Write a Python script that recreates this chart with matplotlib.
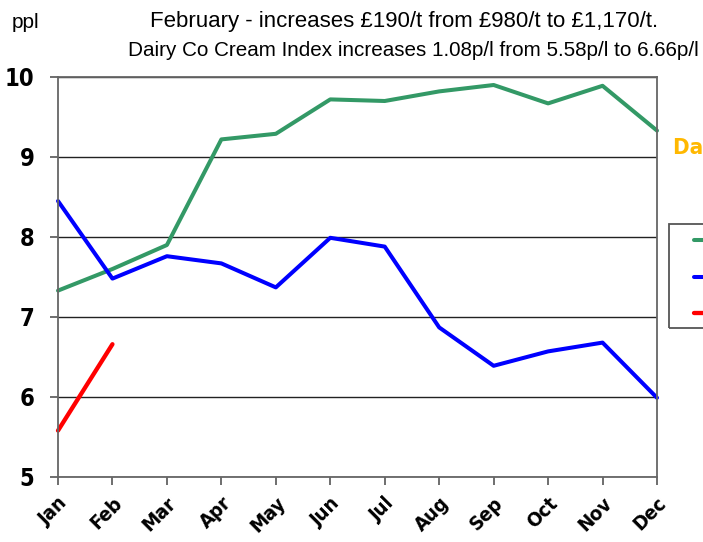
import numpy as np
import matplotlib
matplotlib.use('Agg')
import matplotlib.pyplot as plt
from matplotlib.patches import Rectangle

# data (ppl)
months = ['Jan', 'Feb', 'Mar', 'Apr', 'May', 'Jun', 'Jul', 'Aug', 'Sep', 'Oct', 'Nov', 'Dec']
green_vals = [7.33, 7.60, 7.90, 9.22, 9.29, 9.72, 9.70, 9.82, 9.90, 9.67, 9.89, 9.33]
blue_vals = [8.45, 7.48, 7.76, 7.67, 7.37, 7.99, 7.88, 6.87, 6.39, 6.57, 6.68, 5.99]
red_vals = [5.58, 6.66]
series_labels = ['2007', '2008', '2009']

title1 = 'February - increases \u00a3190/t from \u00a3980/t to \u00a31,170/t.'
title2 = 'Dairy Co Cream Index increases 1.08p/l from 5.58p/l to 6.66p/l'

arial = ['Liberation Sans', 'DejaVu Sans']

fig = plt.figure(figsize=(7.03, 5.42), dpi=100)
ax = fig.add_axes([58/703, 1-477/542, 599/703, 400/542])

x = np.arange(len(months))
l1, = ax.plot(x, green_vals, color='#339966', lw=2.9, solid_capstyle='round', clip_on=False)
l2, = ax.plot(x, blue_vals, color='#0000ff', lw=2.9, solid_capstyle='round', clip_on=False)
l3, = ax.plot(x[:len(red_vals)], red_vals, color='#ff0000', lw=3.1, solid_capstyle='round', clip_on=False)

ax.set_xlim(0, len(months) - 1)
ax.set_ylim(5, 10)
ax.set_yticks([5, 6, 7, 8, 9, 10])
ax.set_xticks(x)
ax.set_xticklabels(months, rotation=45, ha='right', va='top', rotation_mode='anchor',
                   fontsize=14.5, fontweight='bold', fontstretch='condensed')
for t in ax.get_yticklabels():
    t.set_fontsize(17)
    t.set_fontweight('bold')
    t.set_fontstretch('condensed')
ax.tick_params(axis='both', direction='out', length=6, width=1.2, color='#555555')
ax.tick_params(axis='y', pad=11)
ax.tick_params(axis='x', pad=6)
ax.grid(axis='y', color='#222222', lw=1.0)
ax.set_axisbelow(True)
for s in ax.spines.values():
    s.set_color('#666666')
    s.set_linewidth(1.3)

fig.text(12/703, 1-22/542, 'ppl', fontsize=15, family=arial, va='center', ha='left')
fig.text(404/703, 1-22/542, title1, fontsize=16, family=arial, va='center', ha='center')
fig.text(128/703, 1-50/542, title2, fontsize=14.9, family=arial, va='center', ha='left')
fig.text(673/703, 1-148/542, 'Dairy Co Cream Index', fontsize=16, fontweight='bold',
         fontstretch='condensed', color='#ffb800', va='center', ha='left')

# legend box (mostly cut off by the right edge)
fig.add_artist(Rectangle((669/703, 1-328/542), 0.2, 104/542, transform=fig.transFigure,
                         fill=False, edgecolor='#555555', lw=1.3))
fig.legend([l1, l2, l3], series_labels, loc='upper left', bbox_to_anchor=(694/703, 1-232/542),
           frameon=False, borderpad=0, borderaxespad=0, fontsize=12, labelspacing=1.1,
           handlelength=2, handletextpad=0.6)

fig.savefig('out.png', dpi=100)
